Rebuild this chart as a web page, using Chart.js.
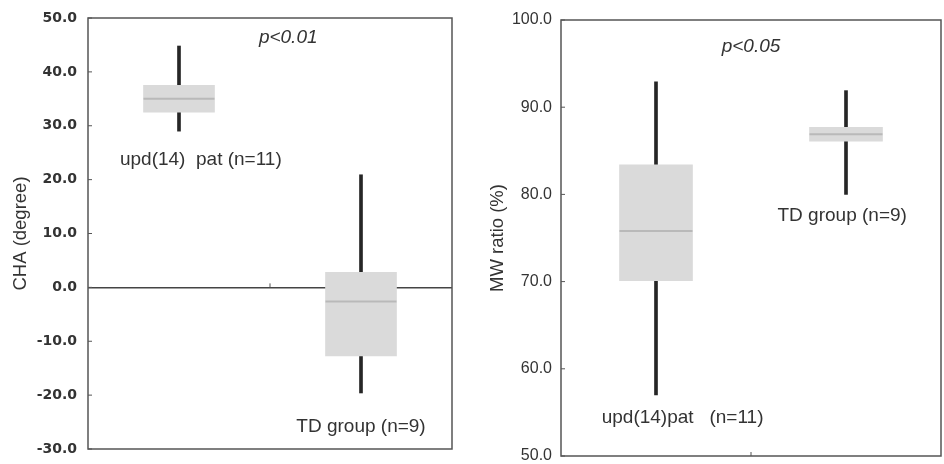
<!DOCTYPE html>
<html>
<head>
<meta charset="utf-8">
<script src="https://cdn.jsdelivr.net/npm/chart.js@4.4.1/dist/chart.umd.min.js"></script>
<style>
  html, body { margin: 0; padding: 0; background: #fff; }
  #wrap { position: relative; width: 944px; height: 464px; }
  #leftBox { position: absolute; left: 0; top: 0; width: 470px; height: 464px; }
  #rightBox { position: absolute; left: 470px; top: 0; width: 474px; height: 464px; }
</style>
</head>
<body>
<div id="wrap">
  <div id="leftBox"><canvas id="chartCha" width="470" height="464"></canvas></div>
  <div id="rightBox"><canvas id="chartMw" width="474" height="464"></canvas></div>
</div>
<script>
/* ====== DATA ====== */
const groups = ["upd(14) pat", "TD group"];

// CHA (degree)
const chaMin = [29.0, -19.6];
const chaQ1  = [32.5, -12.7];
const chaMed = [35.0, -2.6];
const chaQ3  = [37.5, 2.8];
const chaMax = [44.8, 20.9];
const chaTicks = [-30, -20, -10, 0, 10, 20, 30, 40, 50];

// MW ratio (%)
const mwMin = [57.0, 80.0];
const mwQ1  = [70.1, 86.1];
const mwMed = [75.8, 86.9];
const mwQ3  = [83.4, 87.7];
const mwMax = [92.9, 91.9];
const mwTicks = [50, 60, 70, 80, 90, 100];

/* ====== FRAME + NOTES PLUGIN ====== */
const boxFrame = {
  id: "boxFrame",
  afterDraw(chart, args, opts) {
    const { ctx, chartArea: a } = chart;
    const x = chart.scales.x, y = chart.scales.y;
    ctx.save();
    ctx.strokeStyle = "#555";
    ctx.lineWidth = 1.5;
    ctx.strokeRect(a.left, a.top, a.right - a.left, a.bottom - a.top);

    // small inside ticks on the y axis
    ctx.lineWidth = 1;
    y.ticks.forEach(t => {
      const py = y.getPixelForValue(t.value);
      ctx.beginPath();
      ctx.moveTo(a.left, py);
      ctx.lineTo(a.left + 4, py);
      ctx.stroke();
    });

    // tick between the two groups
    const mx = x.getPixelForValue(0.5);
    const my = y.getPixelForValue(opts.midTickAt);
    ctx.beginPath();
    ctx.moveTo(mx, my);
    ctx.lineTo(mx, my - 4);
    ctx.stroke();

    // text notes
    ctx.fillStyle = "#333";
    ctx.textAlign = "center";
    ctx.textBaseline = "middle";
    opts.notes.forEach(n => {
      ctx.font = (n.italic ? "italic " : "") + "19px 'Liberation Sans', Arial, sans-serif";
      ctx.fillText(n.text, x.getPixelForValue(n.at), y.getPixelForValue(n.value));
    });
    ctx.restore();
  }
};

function boxDatasets(q1, q3, med, lo, hi, width) {
  return [
    {
      type: "line",
      data: med,
      showLine: false,
      pointStyle: "line",
      pointRadius: width / 2,
      pointHoverRadius: width / 2,
      pointBorderWidth: 2,
      pointBorderColor: "#b9b9b9",
      pointBackgroundColor: "#b9b9b9"
    },
    {
      type: "bar",
      data: groups.map((g, i) => [q1[i], q3[i]]),
      backgroundColor: "#dadada",
      borderWidth: 0,
      barThickness: width,
      grouped: false
    },
    {
      type: "bar",
      data: groups.map((g, i) => [lo[i], hi[i]]),
      backgroundColor: "#262626",
      borderWidth: 0,
      barThickness: 3,
      grouped: false
    }
  ];
}

function makeChart(id, cfg) {
  return new Chart(document.getElementById(id), {
    type: "bar",
    data: { labels: groups, datasets: boxDatasets(cfg.q1, cfg.q3, cfg.med, cfg.lo, cfg.hi, cfg.boxWidth) },
    plugins: [boxFrame],
    options: {
      responsive: false,
      animation: false,
      layout: { padding: cfg.padding, autoPadding: false },
      plugins: {
        legend: { display: false },
        tooltip: { enabled: false },
        boxFrame: { notes: cfg.notes, midTickAt: cfg.midTickAt }
      },
      scales: {
        x: { display: false },
        y: {
          min: cfg.ticks[0],
          max: cfg.ticks[cfg.ticks.length - 1],
          afterFit: s => { s.width = cfg.axisWidth; s.paddingTop = 0; s.paddingBottom = 0; },
          afterBuildTicks: s => { s.ticks = cfg.ticks.map(v => ({ value: v })); },
          border: { display: false },
          grid: {
            drawTicks: false,
            lineWidth: 1.5,
            color: c => (cfg.zeroLine && c.tick && c.tick.value === 0) ? "#444" : "rgba(0,0,0,0)"
          },
          ticks: {
            padding: cfg.tickPad,
            color: "#333",
            font: cfg.tickFont,
            callback: v => Number(v).toFixed(1)
          },
          title: {
            display: true,
            text: cfg.title,
            color: "#333",
            font: { family: "'Liberation Sans', Arial, sans-serif", size: 18.5 },
            padding: { top: cfg.titlePad, bottom: 0 }
          }
        }
      }
    }
  });
}

makeChart("chartCha", {
  q1: chaQ1, q3: chaQ3, med: chaMed, lo: chaMin, hi: chaMax,
  ticks: chaTicks,
  boxWidth: 71,
  axisWidth: 88,
  padding: { top: 18, right: 18, bottom: 15, left: 0 },
  tickPad: 11,
  tickFont: { family: "'DejaVu Sans', sans-serif", size: 14, weight: "bold", lineHeight: 1 },
  title: "CHA (degree)",
  titlePad: 10,
  zeroLine: true,
  midTickAt: 0,
  notes: [
    { text: "p<0.01", at: 0.6, value: 46.3, italic: true },
    { text: "upd(14)  pat (n=11)", at: 0.12, value: 23.7 },
    { text: "TD group (n=9)", at: 1.0, value: -25.9 }
  ]
});

makeChart("chartMw", {
  q1: mwQ1, q3: mwQ3, med: mwMed, lo: mwMin, hi: mwMax,
  ticks: mwTicks,
  boxWidth: 73,
  axisWidth: 91,
  padding: { top: 20, right: 3, bottom: 8, left: 0 },
  tickPad: 9,
  tickFont: { family: "'Liberation Sans', Arial, sans-serif", size: 16, lineHeight: 1 },
  title: "MW ratio (%)",
  titlePad: 17,
  zeroLine: false,
  midTickAt: 50,
  notes: [
    { text: "p<0.05", at: 0.5, value: 96.9, italic: true },
    { text: "TD group (n=9)", at: 0.98, value: 77.6 },
    { text: "upd(14)pat   (n=11)", at: 0.14, value: 54.4 }
  ]
});
</script>
</body>
</html>
